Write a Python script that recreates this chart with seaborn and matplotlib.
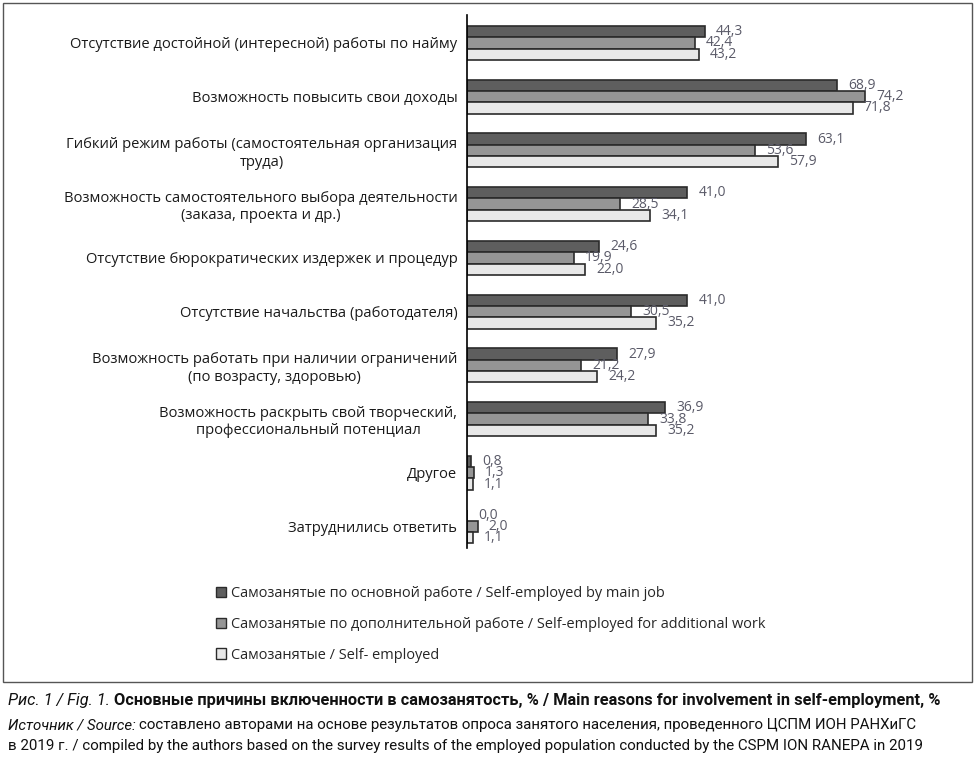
import matplotlib
matplotlib.use("Agg")
import matplotlib.pyplot as plt
import seaborn as sns
import pandas as pd
from matplotlib.patches import Rectangle, Patch

# data
reasons = [
    "Отсутствие достойной (интересной) работы по найму",
    "Возможность повысить свои доходы",
    "Гибкий режим работы (самостоятельная организация\nтруда)",
    "Возможность самостоятельного выбора деятельности\n(заказа, проекта и др.)",
    "Отсутствие бюрократических издержек и процедур",
    "Отсутствие начальства (работодателя)",
    "Возможность работать при наличии ограничений\n(по возрасту, здоровью)",
    "Возможность раскрыть свой творческий,\nпрофессиональный потенциал",
    "Другое",
    "Затруднились ответить",
]
series = [
    "Самозанятые по основной работе / Self-employed by main job",
    "Самозанятые по дополнительной работе / Self-employed for additional work",
    "Самозанятые / Self- employed",
]
main_job = [44.3, 68.9, 63.1, 41.0, 24.6, 41.0, 27.9, 36.9, 0.8, 0.0]
additional = [42.4, 74.2, 53.6, 28.5, 19.9, 30.5, 21.2, 33.8, 1.3, 2.0]
self_emp = [43.2, 71.8, 57.9, 34.1, 22.0, 35.2, 24.2, 35.2, 1.1, 1.1]
colors = ["#5e5e5e", "#959595", "#e8e8e8"]

df = pd.concat([
    pd.DataFrame({"reason": reasons, "value": vals, "group": s})
    for s, vals in zip(series, [main_job, additional, self_emp])
], ignore_index=True)

sns.set_style("white")
plt.rcParams["font.family"] = ["Open Sans", "DejaVu Sans"]

fig = plt.figure(figsize=(9.8, 7.65), dpi=100)
ax = fig.add_axes([467/980, 1-548/765, (961-467)/980, (548-15)/765])

sns.barplot(data=df, y="reason", x="value", hue="group", orient="h",
            palette=colors, width=0.63, edgecolor="#2b2b2b", linewidth=1.2,
            ax=ax, legend=False, order=reasons, hue_order=series)

for cont in ax.containers:
    ax.bar_label(cont, fmt=lambda v: f"{v:.1f}".replace(".", ","), padding=8,
                 fontsize=10, color="#5a5a68")

ax.set_xlim(0, 92)
ax.set_ylim(9.4, -0.52)
ax.set_xlabel("")
ax.set_ylabel("")
ax.set_xticks([])
for sp in ["top", "right", "bottom"]:
    ax.spines[sp].set_visible(False)
ax.spines["left"].set_color("black")
ax.spines["left"].set_linewidth(1.2)
ax.tick_params(axis="y", length=0, pad=7)
for t in ax.get_yticklabels():
    t.set_fontsize(10.6)
    t.set_multialignment("center")
    t.set_color("#1a1a1a")

handles = [Patch(facecolor=c, edgecolor="#2b2b2b", linewidth=1.0) for c in colors]
fig.legend(handles, series, loc="upper left", bbox_to_anchor=(210/980, 1-580/765),
           frameon=False, fontsize=10.45, handlelength=0.72, handleheight=0.72,
           handletextpad=0.3, labelspacing=1.1, borderaxespad=0)

fig.patches.append(Rectangle((3/980, 1-682/765), 969/980, 679/765,
                             transform=fig.transFigure, fill=False,
                             edgecolor="#555555", linewidth=1.0))

# caption with mixed italic / bold runs
fig.canvas.draw()
renderer = fig.canvas.get_renderer()
cap_font = ["Roboto", "DejaVu Sans"]

def run(parts, x0, y, size):
    x = x0
    for txt, kw in parts:
        t = fig.text(x, y, txt, fontsize=size, va="center", ha="left",
                     family=cap_font, color="#111111", **kw)
        bb = t.get_window_extent(renderer=renderer)
        x = bb.x1 / fig.bbox.width

run([("Рис. 1 / Fig. 1. ", {"style": "italic"}),
     ("Основные причины включенности в самозанятость, % / Main reasons for involvement in self-employment, %",
      {"weight": "bold"})], 8/980, 1-701/765, 11.8)
run([("Источник / Source: ", {"style": "italic"}),
     ("составлено авторами на основе результатов опроса занятого населения, проведенного ЦСПМ ИОН РАНХиГС", {})],
    8/980, 1-725/765, 10.8)
run([("в 2019 г. / compiled by the authors based on the survey results of the employed population conducted by the CSPM ION RANEPA in 2019", {})],
    8/980, 1-746/765, 10.9)

fig.savefig("out.png", dpi=100)
